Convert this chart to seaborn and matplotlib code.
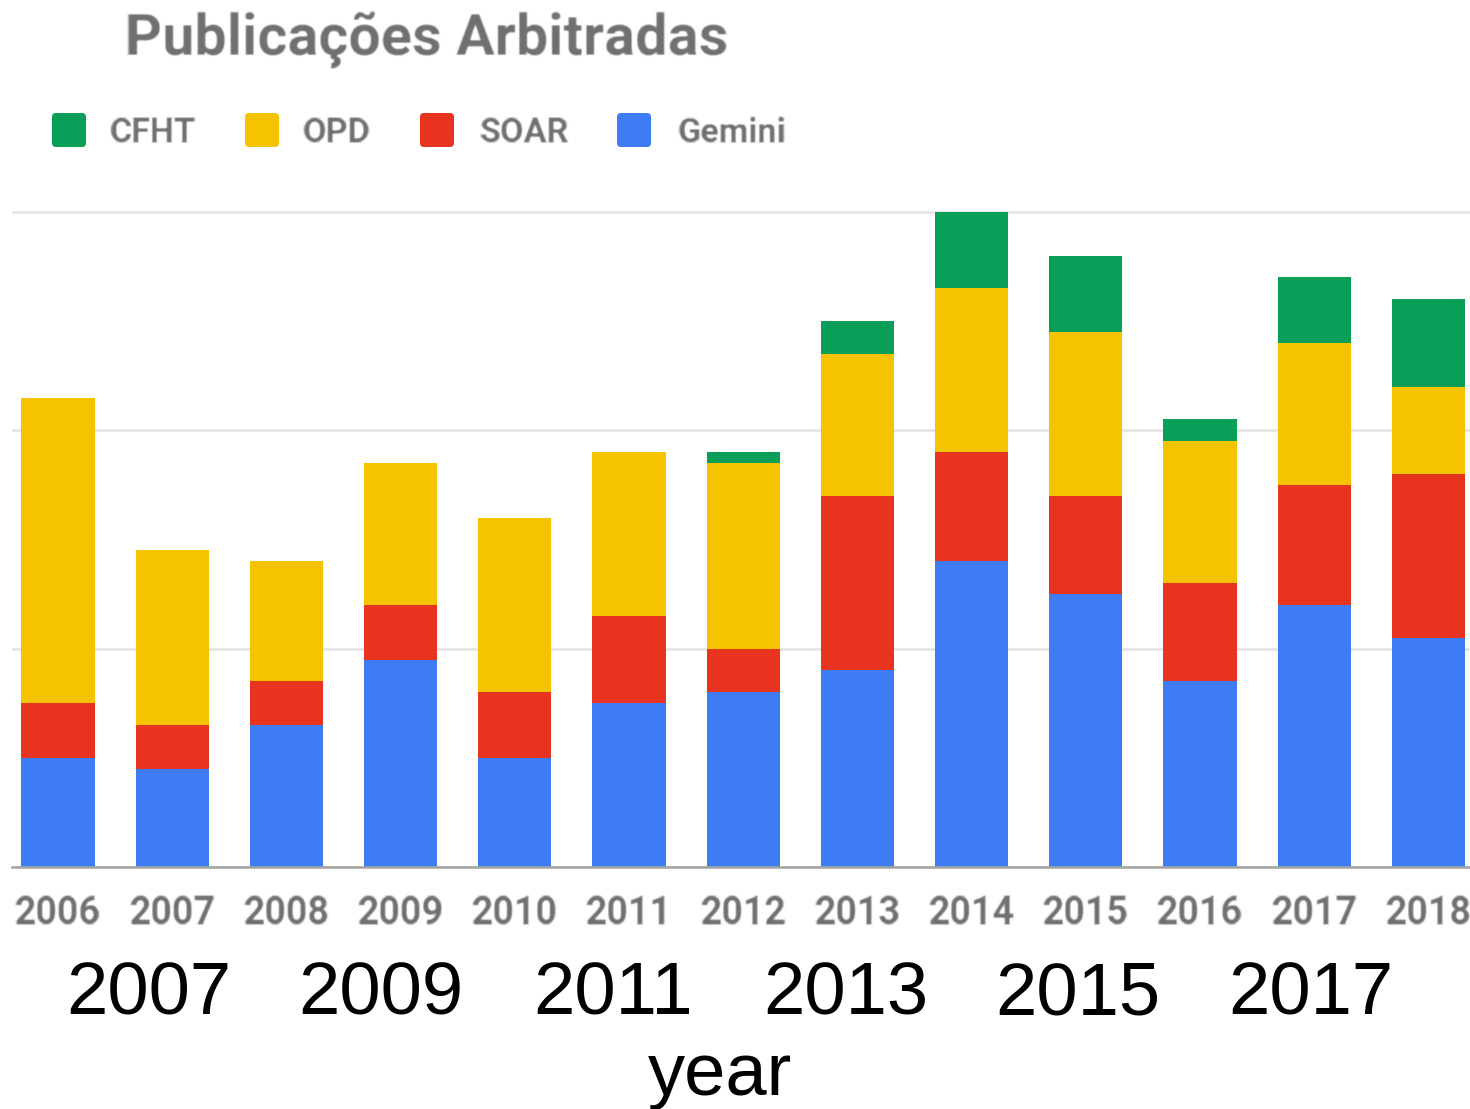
import matplotlib
matplotlib.use("Agg")
import matplotlib.pyplot as plt
from matplotlib.patches import FancyBboxPatch
from matplotlib.transforms import IdentityTransform
import numpy as np
import pandas as pd
import seaborn as sns

# Refereed publications per year and facility
years = ["2006", "2007", "2008", "2009", "2010", "2011", "2012",
         "2013", "2014", "2015", "2016", "2017", "2018"]
gemini = [10, 9, 13, 19, 10, 15, 16, 18, 28, 25, 17, 24, 21]
soar = [5, 4, 4, 5, 6, 8, 4, 16, 10, 9, 9, 11, 15]
opd = [28, 16, 11, 13, 16, 15, 17, 13, 15, 15, 13, 13, 8]
cfht = [0, 0, 0, 0, 0, 0, 1, 3, 7, 7, 2, 6, 8]

legend_names = ["CFHT", "OPD", "SOAR", "Gemini"]
stack_order = ["Gemini", "SOAR", "OPD", "CFHT"]
palette = {"Gemini": "#3d7cf5", "SOAR": "#e8341f",
           "OPD": "#f5c300", "CFHT": "#0a9f58"}
axis_years = [2007, 2009, 2011, 2013, 2015, 2017]

sns.set_theme(style="white")
plt.rcParams["font.family"] = ["Roboto", "DejaVu Sans"]

W, H = 1470, 1109
fig = plt.figure(figsize=(W / 100, H / 100), dpi=100)
fig.patch.set_facecolor("white")


def px_box(left, top, right, bottom):
    return [left / W, 1 - bottom / H, (right - left) / W, (bottom - top) / H]


def soften(image, dpi, sigma=0.8):
    """Light Gaussian blur used as an agg filter for the chart's text."""
    pad = int(3 * sigma) + 1
    img = np.pad(image, ((pad, pad), (pad, pad), (0, 0)))
    x = np.arange(-pad, pad + 1)
    k = np.exp(-0.5 * (x / sigma) ** 2)
    k /= k.sum()
    out = np.apply_along_axis(lambda v: np.convolve(v, k, mode="same"), 0, img)
    out = np.apply_along_axis(lambda v: np.convolve(v, k, mode="same"), 1, out)
    return out, -pad, -pad


GRAY = "#6f6f6f"

# ---- stacked bars -------------------------------------------------------
ax = fig.add_axes(px_box(12, 190.1, 1470, 867))
df = pd.DataFrame({"year": years, "Gemini": gemini, "SOAR": soar,
                   "OPD": opd, "CFHT": cfht})
cum = df[stack_order].cumsum(axis=1)
cum["year"] = df["year"]

# draw cumulative totals from the top segment down so each layer overlays the next
for name in reversed(stack_order):
    sns.barplot(data=cum, x="year", y=name, order=years, color=palette[name],
                width=0.64, saturation=1, errorbar=None, linewidth=0, ax=ax)

ax.set_xlim(-0.4028, 12.364)
ax.set_ylim(0, 62)
ax.set_yticks([0, 20, 40, 60])
ax.set_axisbelow(True)
ax.grid(axis="y", color="#e3e3e3", linewidth=1.8)
ax.grid(axis="x", visible=False)
ax.set_xlabel("")
ax.set_ylabel("")
ax.tick_params(axis="y", length=0, labelleft=False)
ax.tick_params(axis="x", length=0, pad=20, labelsize=27, labelcolor=GRAY)
for lab in ax.get_xticklabels():
    lab.set_fontweight("bold")
    lab.set_agg_filter(soften)
for side in ["left", "right", "top"]:
    ax.spines[side].set_visible(False)
ax.spines["bottom"].set_color("#a3a3a3")
ax.spines["bottom"].set_linewidth(1.8)
ax.patch.set_alpha(0)

# ---- title and legend ---------------------------------------------------
title = fig.text(125 / W, 1 - 55 / H, "Publicações Arbitradas", fontsize=41.5,
                 fontweight="bold", color=GRAY, ha="left", va="baseline")
title.set_agg_filter(soften)

square_left = [52, 245, 420, 617]
text_left = [110, 303, 480, 677]
for name, sx, tx in zip(legend_names, square_left, text_left):
    fig.patches.append(FancyBboxPatch(
        (sx, H - 147), 34, 34, boxstyle="round,pad=0,rounding_size=4",
        facecolor=palette[name], edgecolor="none",
        transform=IdentityTransform(), figure=fig))
    t = fig.text(tx / W, 1 - 142 / H, name, fontsize=24.6, fontweight="bold",
                 color=GRAY, ha="left", va="baseline")
    t.set_agg_filter(soften)

# ---- outer year axis ----------------------------------------------------
ax2 = fig.add_axes(px_box(0, 920, 1470, 930))
ax2.set_xlim(2005.722, 2018.373)
ax2.set_xticks(axis_years)
ax2.set_xticklabels([str(y) for y in axis_years],
                    fontfamily="Liberation Sans", fontsize=53.5)
ax2.set_yticks([])
ax2.tick_params(axis="x", length=0, pad=22.3, labelcolor="black")
for s in ax2.spines.values():
    s.set_visible(False)
ax2.patch.set_alpha(0)
ax2.set_xlabel("year", fontfamily="Liberation Sans", fontsize=53.5,
               color="black")
ax2.xaxis.set_label_coords(720.5 / W, (930 - 1041) / 10)

fig.savefig("out.png", dpi=100)
